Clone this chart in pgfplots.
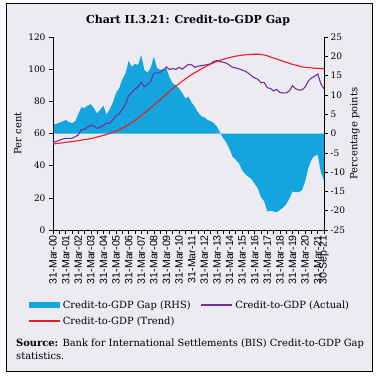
\documentclass[border=0pt]{standalone}
\usepackage{pgfplots}
\pgfplotsset{compat=1.18}
\usepackage{pgfplotstable}
\usepackage{fontspec}
\setmainfont{DejaVu Serif}
\newfontfamily\lsans{Liberation Sans}
\definecolor{bgc}{RGB}{235,235,241}
\definecolor{gapblue}{RGB}{20,165,222}
\definecolor{actpurple}{RGB}{112,48,160}
\definecolor{trendred}{RGB}{237,28,36}

\pgfplotstableread{
x gap actual trend
0.00 2.3 54.5 53.5
0.25 2.5 55.0 53.7
0.50 2.8 55.8 54.0
0.75 3.1 56.5 54.2
1.00 3.5 57.0 54.5
1.25 3.0 57.0 54.7
1.50 2.7 57.0 55.0
1.75 3.1 58.0 55.2
2.00 5.0 59.0 55.5
2.25 6.8 62.5 55.9
2.50 6.6 62.6 56.2
2.75 7.2 64.0 56.5
3.00 7.6 65.2 56.9
3.25 6.5 64.5 57.3
3.50 5.2 63.2 57.8
3.75 6.2 63.8 58.3
4.00 7.2 65.0 58.8
4.25 4.9 66.3 59.4
4.50 6.3 66.3 60.0
4.75 8.0 68.5 60.7
5.00 10.5 71.0 61.5
5.25 11.7 72.2 62.3
5.50 14.0 75.0 63.3
5.75 15.5 78.0 64.4
6.00 18.8 83.5 65.5
6.25 17.3 85.5 66.8
6.50 18.0 87.5 68.2
6.75 17.8 88.9 69.6
7.00 20.3 91.8 71.1
7.25 16.5 89.1 72.7
7.50 15.8 90.6 74.2
7.75 17.0 92.5 75.9
8.00 19.9 97.5 77.6
8.25 17.0 97.6 79.4
8.50 16.5 98.0 81.1
8.75 16.7 99.5 82.8
9.00 16.9 101.4 84.5
9.25 14.5 99.8 86.3
9.50 13.0 100.4 87.9
9.75 12.5 99.8 89.5
10.00 11.7 101.2 91.0
10.25 10.5 100.0 92.5
10.50 9.1 101.5 93.9
10.75 9.5 103.0 95.3
11.00 8.0 102.7 96.6
11.25 6.9 101.1 97.8
11.50 5.5 101.8 99.0
11.75 4.5 102.2 100.1
12.00 4.2 102.5 101.2
12.25 3.5 102.8 102.2
12.50 3.2 103.4 103.1
12.75 2.7 104.8 104.0
13.00 1.8 105.4 104.8
13.25 0.3 104.7 105.5
13.50 -1.2 104.3 106.1
13.75 -2.3 103.8 106.7
14.00 -4.0 102.5 107.2
14.25 -6.0 101.1 107.7
14.50 -6.8 100.8 108.1
14.75 -7.7 100.2 108.4
15.00 -9.5 99.5 108.7
15.25 -10.5 98.8 108.9
15.50 -11.2 97.5 109.1
15.75 -11.8 95.8 109.2
16.00 -13.0 94.5 109.3
16.25 -14.2 93.8 109.3
16.50 -16.5 91.5 109.1
16.75 -17.5 91.8 108.8
17.00 -20.2 88.5 108.3
17.25 -20.0 88.0 107.6
17.50 -20.2 86.5 106.9
17.75 -20.4 87.5 106.3
18.00 -19.8 85.5 105.6
18.25 -19.2 85.2 104.9
18.50 -18.3 85.3 104.3
18.75 -16.9 86.5 103.6
19.00 -15.0 89.8 103.0
19.25 -15.2 87.8 102.5
19.50 -15.2 87.0 102.0
19.75 -14.7 87.1 101.5
20.00 -12.5 88.8 101.2
20.25 -9.0 92.5 101.0
20.50 -6.8 94.5 100.8
20.75 -5.8 95.5 100.6
21.00 -5.5 97.0 100.5
21.25 -10.0 91.0 100.4
21.50 -12.1 87.7 100.2
}\datatable

\begin{document}
\begin{tikzpicture}[x=1pt,y=1pt]
\useasboundingbox (-53,-145) rectangle (324,230);
\fill[white] (-53,-145) rectangle (324,230);
\filldraw[fill=bgc, draw=black, line width=0.8pt] (-47,-141) rectangle (319,227);
\node[font=\fontsize{11}{12}\selectfont\bfseries] at (135,210) {Chart II.3.21: Credit-to-GDP Gap};

% right axis: gap area
\begin{axis}[
  at={(0,0)}, anchor=south west,
  scale only axis, width=271pt, height=193pt,
  xmin=0, xmax=21.5, ymin=-25, ymax=25,
  axis x line=none, axis y line*=right,
  ytick={-25,-20,...,25},
  tick align=outside, major tick length=4pt,
  yticklabel style={font=\fontsize{9}{10}\selectfont, xshift=-1pt},
  /pgf/number format/assume math mode=true,
  ylabel={Percentage points}, ylabel style={font=\fontsize{10}{12}\selectfont, yshift=2pt},
  axis line style={line width=0.7pt}, tick style={line width=0.6pt, black},
]
\addplot[fill=gapblue, draw=none] table[x=x, y=gap] {\datatable} \closedcycle;
\end{axis}

% left axis: lines
\begin{axis}[
  at={(0,0)}, anchor=south west,
  scale only axis, width=271pt, height=193pt,
  xmin=0, xmax=21.5, ymin=0, ymax=120,
  axis x line*=bottom, axis y line*=left,
  ytick={0,20,...,120},
  xtick={0,1,...,21,21.5},
  minor xtick={0.5,1.5,...,20.5},
  xticklabels={31-Mar-00,31-Mar-01,31-Mar-02,31-Mar-03,31-Mar-04,31-Mar-05,31-Mar-06,31-Mar-07,31-Mar-08,31-Mar-09,31-Mar-10,31-Mar-11,31-Mar-12,31-Mar-13,31-Mar-14,31-Mar-15,31-Mar-16,31-Mar-17,31-Mar-18,31-Mar-19,31-Mar-20,31-Mar-21,30-Sep-21},
  xticklabel style={font=\lsans\fontsize{10.6}{10}\selectfont, rotate=90, anchor=east, inner sep=1pt},
  tick align=outside, major tick length=4pt, minor tick length=4pt,
  yticklabel style={font=\fontsize{9}{10}\selectfont},
  /pgf/number format/assume math mode=true,
  ylabel={Per cent}, ylabel style={font=\fontsize{10}{12}\selectfont},
  axis line style={line width=0.7pt, -}, tick style={line width=0.6pt, black},
  legend image code/.code={\draw[#1] (0pt,0pt) -- (31pt,0pt);},
  area legend/.style={legend image code/.code={\fill[##1] (0pt,-3pt) rectangle (31pt,3pt);}},
  legend columns=2,
  legend cell align=left,
  legend style={at={(axis description cs:-0.092,-0.36)}, anchor=north west, draw=none, fill=none,
    font=\fontsize{9.9}{12}\selectfont, inner sep=0pt, row sep=5pt,
    nodes={inner sep=1pt},
    /tikz/every odd column/.append style={column sep=1pt},
    /tikz/every even column/.append style={column sep=9pt}},
]
\addlegendimage{area legend, fill=gapblue, draw=none}
\addlegendentry{Credit-to-GDP Gap (RHS)}
\addlegendimage{draw=actpurple, line width=1.6pt}
\addlegendentry{Credit-to-GDP (Actual)}
\addlegendimage{draw=trendred, line width=1.6pt}
\addlegendentry{Credit-to-GDP (Trend)}
\addplot[draw=actpurple, line width=1.1pt, forget plot] table[x=x, y=actual] {\datatable};
\addplot[draw=trendred, line width=1.1pt, forget plot] table[x=x, y=trend] {\datatable};
\end{axis}

\node[anchor=north west, align=left, font=\fontsize{9.9}{13}\selectfont, inner sep=0pt] at (-37,-109)
  {\textbf{Source:} Bank for International Settlements (BIS) Credit-to-GDP Gap\\statistics.};
\end{tikzpicture}
\end{document}
